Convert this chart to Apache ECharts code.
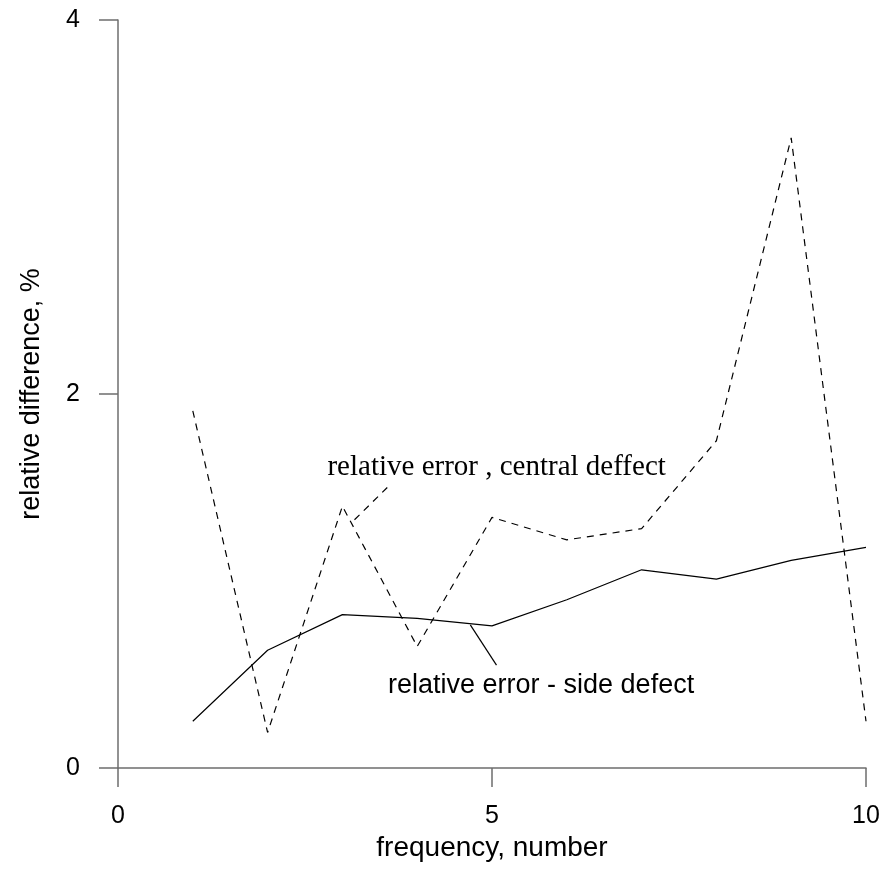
<!DOCTYPE html>
<html>
<head>
<meta charset="utf-8">
<script src="https://cdn.jsdelivr.net/npm/echarts@6/dist/echarts.min.js"></script>
<style>
  html, body { margin: 0; padding: 0; background: #fff; }
  #chart { width: 886px; height: 869px; }
</style>
</head>
<body>
<div id="chart"></div>
<script>
  // frequency number 1..10
  const frequencies = [1, 2, 3, 4, 5, 6, 7, 8, 9, 10]
  const centralDefect = [1.91, 0.19, 1.40, 0.65, 1.34, 1.22, 1.28, 1.75, 3.37, 0.25]
  const sideDefect = [0.25, 0.63, 0.82, 0.80, 0.76, 0.90, 1.06, 1.01, 1.11, 1.18]
  const xTicks = [0, 5, 10]
  const yTicks = [0, 2, 4]

  // annotation anchors, in data units
  const centralLabel = { text: 'relative error , central deffect', at: [2.80, 1.605] }
  const centralLeader = [[3.60, 1.50], [3.13, 1.315]]
  const sideLabel = { text: 'relative error - side defect', at: [3.61, 0.44] }
  const sideLeader = [[4.71, 0.765], [5.06, 0.55]]

  const axisGray = '#6e6e6e'
  const sans = '"Liberation Sans", Arial, sans-serif'
  const serif = '"Liberation Serif", "Times New Roman", serif'

  let chart = echarts.init(document.getElementById('chart'))

  let axisCommon = {
    type: 'value',
    splitLine: {show: false},
    axisLine: {show: true, onZero: false, lineStyle: {color: axisGray, width: 1.5}},
    axisTick: {show: true, length: 19, lineStyle: {color: axisGray, width: 1.5}},
    nameLocation: 'middle'
  }

  let option = {
    animation: false,
    backgroundColor: '#fff',
    grid: {left: 118, right: 20, top: 20, bottom: 101},
    xAxis: Object.assign({}, axisCommon, {
      min: xTicks[0],
      max: xTicks[xTicks.length - 1],
      interval: xTicks[1] - xTicks[0],
      name: 'frequency, number',
      nameGap: 66,
      nameTextStyle: {color: '#000', fontSize: 28, fontFamily: sans},
      axisLabel: {color: '#000', fontSize: 25, fontFamily: sans, margin: 36}
    }),
    yAxis: Object.assign({}, axisCommon, {
      min: yTicks[0],
      max: yTicks[yTicks.length - 1],
      interval: yTicks[1] - yTicks[0],
      name: 'relative difference, %',
      nameGap: 73,
      nameTextStyle: {color: '#000', fontSize: 27, fontFamily: sans},
      axisLabel: {color: '#000', fontSize: 25, fontFamily: sans, margin: 38}
    }),
    series: [
      {
        type: 'line',
        data: frequencies.map((f, i) => [f, centralDefect[i]]),
        symbol: 'none',
        lineStyle: {color: '#000', width: 1.2, type: [7, 6]},
        markLine: {
          silent: true,
          symbol: 'none',
          label: {show: false},
          lineStyle: {color: '#000', width: 1.2, type: [7, 6]},
          data: [[{coord: centralLeader[0]}, {coord: centralLeader[1]}]]
        }
      },
      {
        type: 'line',
        data: frequencies.map((f, i) => [f, sideDefect[i]]),
        symbol: 'none',
        lineStyle: {color: '#000', width: 1.2, type: 'solid'},
        markLine: {
          silent: true,
          symbol: 'none',
          label: {show: false},
          lineStyle: {color: '#000', width: 1.2, type: 'solid'},
          data: [[{coord: sideLeader[0]}, {coord: sideLeader[1]}]]
        }
      }
    ]
  }
  chart.setOption(option)

  // place the two captions through the chart's own scales
  let p1 = chart.convertToPixel({gridIndex: 0}, centralLabel.at)
  let p2 = chart.convertToPixel({gridIndex: 0}, sideLabel.at)
  chart.setOption({
    graphic: [
      {
        type: 'text', x: p1[0], y: p1[1],
        style: {text: centralLabel.text, fill: '#000', font: '29px ' + serif, textVerticalAlign: 'middle'}
      },
      {
        type: 'text', x: p2[0], y: p2[1],
        style: {text: sideLabel.text, fill: '#000', font: '27px ' + sans, textVerticalAlign: 'middle'}
      }
    ]
  })
</script>
</body>
</html>
